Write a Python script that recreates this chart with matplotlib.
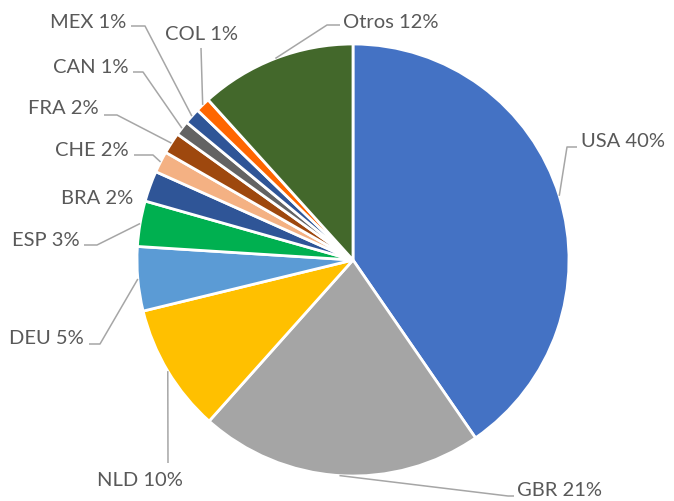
import matplotlib
matplotlib.use("Agg")
import numpy as np
import matplotlib.pyplot as plt

# Share by country (percent)
COUNTRIES = ["USA", "GBR", "NLD", "DEU", "ESP", "BRA", "CHE", "FRA",
             "CAN", "MEX", "COL", "Otros"]
SHARES = [40.4, 21.2, 9.6, 4.8, 3.4, 2.3, 1.6, 1.6, 1.1, 1.2, 1.1, 11.7]

COLORS = ["#4472C4", "#A5A5A5", "#FFC000", "#5B9BD5", "#00B050", "#2F5597",
          "#F4B183", "#9E480E", "#636363", "#2F5597", "#FF6600", "#43682B"]

# Pie geometry in reference pixels
CX, CY, R = 353, 260, 216
W, H = 674, 501

# label layout in reference pixels: (elbow, line end, text anchor, ha)
LABEL_LAYOUT = {
    "USA": ((567, 147), (577, 147), (581, 141), "left"),
    "GBR": ((508, 496), (514, 496), (517, 490), "left"),
    "NLD": ((168, 463), None, (140, 480), "center"),
    "DEU": ((100, 344), (89, 344), (84, 339), "right"),
    "ESP": ((97, 245), (84, 245), (80, 240), "right"),
    "BRA": (None, None, (133, 198), "right"),
    "CHE": ((153, 155), (134, 155), (129, 150), "right"),
    "FRA": ((117, 115), (104, 115), (99, 108), "right"),
    "CAN": ((143, 72), (133, 72), (128, 67), "right"),
    "MEX": ((145, 26), (131, 26), (126, 22), "right"),
    "COL": ((201, 48), None, (201, 35), "center"),
    "Otros": ((327, 25), (340, 25), (343, 22), "left"),
}


def px(p):
    # reference pixel -> data units (pie radius = 1)
    return ((p[0] - CX) / R, (CY - p[1]) / R)


plt.rcParams["font.family"] = ["Lato", "DejaVu Sans"]

fig = plt.figure(figsize=(W / 100, H / 100), dpi=100)
ax = fig.add_axes([0, 0, 1, 1])

wedges, _ = ax.pie(
    SHARES,
    colors=COLORS,
    startangle=90,
    counterclock=False,
    radius=1.0,
    wedgeprops=dict(edgecolor="white", linewidth=2.0),
)

line_color = "#A6A6A6"
text_color = "#595959"
for w, name, val in zip(wedges, COUNTRIES, SHARES):
    elbow, end, txt, ha = LABEL_LAYOUT[name]
    ang = np.deg2rad((w.theta1 + w.theta2) / 2)
    anchor = (np.cos(ang), np.sin(ang))
    if elbow is not None:
        pts = [anchor, px(elbow)]
        if end is not None:
            pts.append(px(end))
        xs, ys = zip(*pts)
        ax.plot(xs, ys, color=line_color, linewidth=1.1, solid_capstyle="butt")
    tx, ty = px(txt)
    ax.text(tx, ty, f"{name} {round(val)}%", ha=ha, va="center",
            fontsize=14.5, color=text_color)

ax.set_xlim(-CX / R, (W - CX) / R)
ax.set_ylim((CY - H) / R, CY / R)
ax.set_aspect("auto")
ax.axis("off")

fig.savefig("out.png", dpi=100)
